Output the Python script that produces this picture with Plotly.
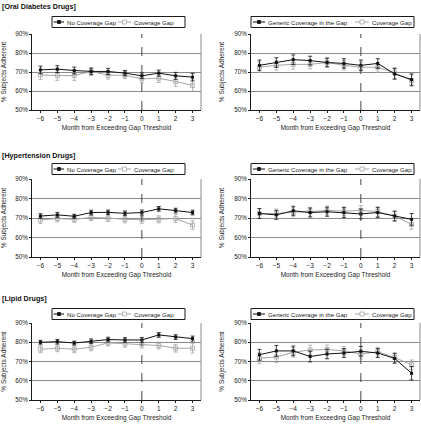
import plotly.graph_objects as go

months = [-6, -5, -4, -3, -2, -1, 0, 1, 2, 3]
y_ticks = [50, 60, 70, 80, 90]
y_tick_labels = ["50%", "60%", "70%", "80%", "90%"]

section_titles = ["[Oral Diabetes Drugs]", "[Hypertension Drugs]", "[Lipid Drugs]"]
left_names = ["No Coverage Gap", "Coverage Gap"]
right_names = ["Generic Coverage in the Gap", "Coverage Gap"]

# Oral diabetes
diab_nogap = [71.1, 71.5, 70.8, 70.3, 70.3, 69.4, 68.0, 69.4, 68.0, 67.3]
diab_nogap_err = [2.0, 1.8, 1.8, 1.7, 1.6, 1.4, 1.5, 1.6, 1.8, 2.0]
diab_gap = [68.5, 68.1, 68.1, 70.3, 68.3, 68.3, 66.4, 66.7, 65.0, 62.9]
diab_gap_err = [2.5, 2.5, 2.5, 2.0, 2.0, 1.8, 2.0, 2.2, 2.5, 3.0]
diab_generic = [73.5, 75.0, 76.5, 76.0, 75.0, 74.5, 73.5, 74.5, 69.0, 66.0]
diab_generic_err = [2.8, 2.5, 2.5, 2.3, 2.3, 2.5, 2.8, 2.5, 2.8, 3.0]
diab_gap2 = [72.5, 73.5, 74.0, 74.0, 75.0, 73.5, 72.5, 72.5, 69.5, 65.5]
diab_gap2_err = [2.8, 2.5, 2.5, 2.3, 2.3, 2.5, 2.8, 2.5, 2.8, 3.0]

# Hypertension
hyp_nogap = [71.0, 71.6, 70.9, 72.8, 72.9, 72.4, 72.8, 74.7, 73.8, 72.8]
hyp_nogap_err = [1.2, 1.3, 1.0, 1.2, 1.2, 1.2, 1.3, 1.2, 1.2, 1.2]
hyp_gap = [69.0, 69.7, 69.3, 70.3, 70.0, 69.3, 69.1, 69.3, 69.7, 66.4]
hyp_gap_err = [1.8, 1.7, 1.5, 1.7, 1.8, 1.8, 1.8, 1.8, 2.0, 2.2]
hyp_generic = [72.3, 71.6, 73.7, 72.8, 73.2, 72.8, 72.1, 72.8, 71.0, 69.3]
hyp_generic_err = [2.5, 2.3, 2.3, 2.3, 2.3, 2.5, 2.5, 2.5, 2.5, 3.0]
hyp_gap2 = [72.3, 72.3, 73.0, 73.2, 73.9, 73.5, 73.9, 73.3, 71.0, 66.7]
hyp_gap2_err = [2.5, 2.3, 2.3, 2.3, 2.3, 2.3, 2.5, 2.5, 2.5, 2.5]

# Lipid
lip_nogap = [80.0, 80.3, 79.6, 80.5, 81.4, 81.2, 81.2, 83.8, 82.7, 81.9]
lip_nogap_err = [1.0, 1.2, 1.0, 1.2, 1.2, 1.2, 1.3, 1.2, 1.2, 1.3]
lip_gap = [76.4, 76.9, 76.4, 77.4, 79.7, 79.2, 79.0, 78.3, 76.9, 76.9]
lip_gap_err = [1.8, 1.8, 1.8, 1.8, 1.5, 1.8, 2.0, 1.8, 2.0, 2.5]
lip_generic = [73.5, 75.5, 75.5, 72.6, 73.9, 74.4, 75.3, 74.4, 71.6, 63.9]
lip_generic_err = [2.8, 2.8, 2.5, 2.8, 2.5, 2.3, 2.5, 2.3, 2.5, 3.5]
lip_gap2 = [71.7, 72.3, 74.8, 76.0, 76.2, 75.5, 73.9, 75.1, 72.1, 68.3]
lip_gap2_err = [2.8, 2.8, 2.5, 2.5, 2.3, 2.3, 2.5, 2.3, 2.5, 2.5]

panels = [
    (diab_nogap, diab_nogap_err, diab_gap, diab_gap_err, left_names),
    (diab_generic, diab_generic_err, diab_gap2, diab_gap2_err, right_names),
    (hyp_nogap, hyp_nogap_err, hyp_gap, hyp_gap_err, left_names),
    (hyp_generic, hyp_generic_err, hyp_gap2, hyp_gap2_err, right_names),
    (lip_nogap, lip_nogap_err, lip_gap, lip_gap_err, left_names),
    (lip_generic, lip_generic_err, lip_gap2, lip_gap2_err, right_names),
]

W, H = 421, 424
FONT = "Liberation Sans, Arial, sans-serif"
BLACK = "#111111"
GRAY = "#a6a6a6"
TXT = "#1a1a1a"

def px_x(x):
    return x / W

def px_y(y):
    return 1 - y / H

col_x = [(32, 201), (251, 420)]
row_y = [(34, 110), (179, 257), (323, 400)]
legend_cy = [22, 169, 314]
title_cy = [6.5, 155.5, 298.5]
legend_geom = [
    dict(box=(52, 185), s1=(53.5, 64, 59), t1=65.5, s2=(118, 131, 124.5), t2=133),
    dict(box=(251, 414), s1=(253, 265, 259), t1=266.5, s2=(355, 369, 362), t2=370.5),
]

fig = go.Figure()
layout = dict(
    template="none",
    width=W, height=H, margin=dict(l=0, r=0, t=0, b=0),
    paper_bgcolor="white", plot_bgcolor="white",
    font=dict(family=FONT, size=6.5, color=TXT),
    showlegend=False,
)
shapes = []
annotations = []

for i, (b, be, g, ge, names) in enumerate(panels):
    r, c = divmod(i, 2)
    n = i + 1
    xa = "x" if n == 1 else f"x{n}"
    ya = "y" if n == 1 else f"y{n}"
    fig.add_trace(go.Scatter(
        x=months, y=g, name=names[1], mode="lines+markers",
        line=dict(color=GRAY, width=1),
        marker=dict(symbol="square-open", size=4, color=GRAY, line=dict(width=0.8)),
        error_y=dict(type="data", array=ge, color=GRAY, thickness=0.8, width=2),
        xaxis=xa, yaxis=ya,
    ))
    fig.add_trace(go.Scatter(
        x=months, y=b, name=names[0], mode="lines+markers",
        line=dict(color=BLACK, width=1),
        marker=dict(symbol="square", size=3, color=BLACK),
        error_y=dict(type="data", array=be, color=BLACK, thickness=0.8, width=2),
        xaxis=xa, yaxis=ya,
    ))
    x0, x1 = col_x[c]
    y0, y1 = row_y[r]
    xkey = "xaxis" if n == 1 else f"xaxis{n}"
    ykey = "yaxis" if n == 1 else f"yaxis{n}"
    layout[xkey] = dict(
        domain=[px_x(x0), px_x(x1)], anchor=ya, range=[-6.5, 3.5],
        tickmode="array", tickvals=months, ticks="outside", ticklen=2,
        tickcolor=TXT, showgrid=False, zeroline=False,
        showline=True, linecolor=TXT, linewidth=1, mirror=False,
        tickfont=dict(size=6.5, family=FONT, color=TXT), fixedrange=True,
        title=dict(text="Month from Exceeding Gap Threshold",
                   font=dict(size=6.5, family=FONT, color=TXT), standoff=4),
    )
    layout[ykey] = dict(
        domain=[px_y(y1), px_y(y0)], anchor=xa, range=[50, 90],
        tickmode="array", tickvals=y_ticks, ticktext=y_tick_labels,
        ticks="outside", ticklen=2, tickcolor=TXT,
        showgrid=True, gridcolor="#8a8a8a", gridwidth=1, zeroline=False,
        showline=True, linecolor=TXT, linewidth=1, mirror=False,
        tickfont=dict(size=6.3, family=FONT, color=TXT), fixedrange=True,
        title=dict(text="% Subjects Adherent", font=dict(size=6.5, family=FONT, color=TXT), standoff=8),
    )
    shapes.append(dict(type="line", xref=f"{xa} domain", yref=f"{ya} domain",
                       x0=1, x1=1, y0=0, y1=1, line=dict(color="#8a8a8a", width=1)))
    shapes.append(dict(type="line", xref=xa, yref=f"{ya} domain",
                       x0=0, x1=0, y0=0, y1=1, line=dict(color="#444", width=1, dash="dash")))

    lg = legend_geom[c]
    cy = legend_cy[r]
    shapes.append(dict(type="rect", xref="paper", yref="paper",
                       x0=px_x(lg["box"][0]), x1=px_x(lg["box"][1]),
                       y0=px_y(cy + 5.5), y1=px_y(cy - 5.5),
                       line=dict(color=TXT, width=1), fillcolor="white", layer="above"))
    for (sx0, sx1, sm), col, filled in [(lg["s1"], BLACK, True), (lg["s2"], GRAY, False)]:
        shapes.append(dict(type="line", xref="paper", yref="paper",
                           x0=px_x(sx0), x1=px_x(sx1), y0=px_y(cy), y1=px_y(cy),
                           line=dict(color=col, width=1), layer="above"))
        hs = 1.5 if filled else 2
        shapes.append(dict(type="rect", xref="paper", yref="paper",
                           x0=px_x(sm - hs), x1=px_x(sm + hs), y0=px_y(cy + hs), y1=px_y(cy - hs),
                           line=dict(color=col, width=0.8),
                           fillcolor=col if filled else "white", layer="above"))
    for tx, name in [(lg["t1"], names[0]), (lg["t2"], names[1])]:
        annotations.append(dict(text=name, xref="paper", yref="paper",
                                x=px_x(tx), y=px_y(cy), xanchor="left", yanchor="middle",
                                showarrow=False, font=dict(size=6.1, family=FONT, color=TXT),
                                borderpad=0))

for r in range(3):
    annotations.append(dict(text=f"<b>{section_titles[r]}</b>", xref="paper", yref="paper",
                            x=px_x(1), y=px_y(title_cy[r]), xanchor="left", yanchor="middle",
                            showarrow=False, borderpad=0,
                            font=dict(size=7.2, family=FONT, color="#111")))

layout["shapes"] = shapes
layout["annotations"] = annotations
fig.update_layout(**layout)
fig.write_html("out.html", config={"displayModeBar": False},
               post_script="document.body.style.margin='0';")
